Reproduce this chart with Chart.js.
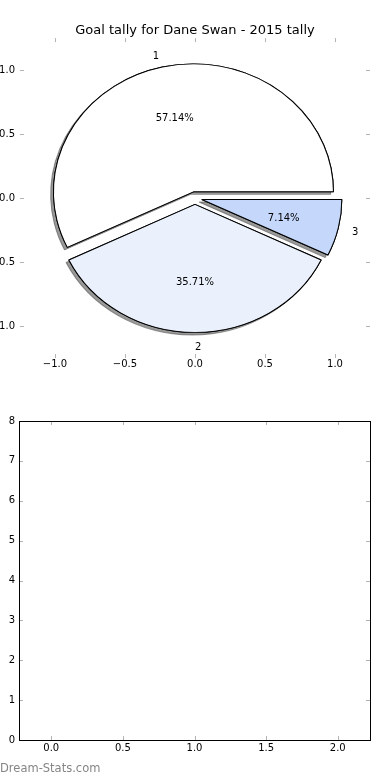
<!DOCTYPE html>
<html><head><meta charset="utf-8">
<script src="https://cdn.jsdelivr.net/npm/chart.js@4/dist/chart.umd.min.js"></script>
<style>
html,body{margin:0;padding:0;background:#fff;overflow:hidden;width:390px;height:780px;}
canvas{position:absolute;background:#fff;}
#pie{left:-30px;top:0;}
#empty{left:-30px;top:395px;}
#wm{position:absolute;left:0;top:761px;font-family:'DejaVu Sans',sans-serif;font-size:11.5px;color:#858585;white-space:nowrap;}
</style></head><body>
<canvas id="pie" width="450" height="390"></canvas>
<canvas id="empty" width="420" height="385"></canvas>
<div id="wm">Dream-Stats.com</div>
<script>
// ---- data ----
const sliceLabels = ['1', '2', '3'];
const goals = [8, 5, 1];
const pieXTicks = [-1, -0.5, 0, 0.5, 1];
const pieYTicks = [-1, -0.5, 0, 0.5, 1];
const lowerXTicks = [0, 0.5, 1, 1.5, 2];
const lowerYTicks = [0, 1, 2, 3, 4, 5, 6, 7, 8];
const titleText = 'Goal tally for Dane Swan - 2015 tally';

// ---- style ----
const sliceColors = ['#ffffff', '#eaf1fd', '#c5d8fb'];
const FONT = "'DejaVu Sans', sans-serif";
const EXPLODE = 0.05, LABEL_R = 1.1, PCT_R = 0.6, SHADOW = 0.02;
const tickFont = {family: FONT, size: 10};
const fmt1 = v => (v < 0 ? '\u2212' : '') + Math.abs(v).toFixed(1);
const fmt0 = v => (v < 0 ? '\u2212' : '') + Math.abs(v).toFixed(0);

const tickMarks = {
  id: 'tickMarks',
  afterDraw(chart, args, opts) {
    const {ctx, chartArea: a} = chart;
    const xs = chart.scales.x, ys = chart.scales.y;
    ctx.save();
    ctx.strokeStyle = opts.color; ctx.lineWidth = 1;
    ctx.beginPath();
    xs.ticks.forEach(t => {
      const p = Math.round(xs.getPixelForValue(t.value)) + 0.5;
      ctx.moveTo(p, a.top); ctx.lineTo(p, a.top + opts.len);
      ctx.moveTo(p, a.bottom); ctx.lineTo(p, a.bottom - opts.len);
    });
    ys.ticks.forEach(t => {
      const p = Math.round(ys.getPixelForValue(t.value)) + 0.5;
      ctx.moveTo(a.left, p); ctx.lineTo(a.left + opts.len, p);
      ctx.moveTo(a.right, p); ctx.lineTo(a.right - opts.len, p);
    });
    ctx.stroke();
    if (opts.frame) {
      ctx.strokeStyle = '#000';
      ctx.strokeRect(Math.round(a.left) + 0.5, Math.round(a.top) + 0.5,
                     Math.round(a.right - a.left), Math.round(a.bottom - a.top));
    }
    ctx.restore();
  }
};

const pieDraw = {
  id: 'pieDraw',
  beforeDatasetDraw(chart, args) {
    const ctx = chart.ctx, xs = chart.scales.x, ys = chart.scales.y, meta = args.meta;
    const R = meta.controller.outerRadius;
    const cx = xs.getPixelForValue(0), cy = ys.getPixelForValue(0);
    const ux = xs.getPixelForValue(1) - cx, uy = cy - ys.getPixelForValue(1);
    const pass = withShadow => {
      ctx.save();
      if (withShadow) {
        ctx.shadowColor = 'rgba(70,70,70,0.55)';
        ctx.shadowOffsetX = -SHADOW * ux;
        ctx.shadowOffsetY = SHADOW * uy;
        ctx.shadowBlur = 0;
      }
      meta.data.forEach(arc => {
        const mid = (arc.startAngle + arc.endAngle) / 2;
        ctx.save();
        ctx.translate(cx, cy);
        ctx.scale(ux / R, -uy / R);
        ctx.translate(-cx, -cy);
        ctx.translate(Math.cos(mid) * EXPLODE * R, Math.sin(mid) * EXPLODE * R);
        arc.draw(ctx);
        ctx.restore();
      });
      ctx.restore();
    };
    pass(true);
    pass(false);
    return false;
  },
  afterDatasetsDraw(chart) {
    const ctx = chart.ctx, xs = chart.scales.x, ys = chart.scales.y;
    const total = goals.reduce((s, v) => s + v, 0);
    let cum = 0;
    ctx.save();
    ctx.font = '10px ' + FONT;
    ctx.fillStyle = '#000';
    ctx.textBaseline = 'middle';
    goals.forEach((g, i) => {
      const a0 = cum / total * 2 * Math.PI; cum += g;
      const a1 = cum / total * 2 * Math.PI;
      const mid = (a0 + a1) / 2, c = Math.cos(mid), s = Math.sin(mid);
      ctx.textAlign = c > -1e-9 ? 'left' : 'right';
      ctx.fillText(sliceLabels[i], xs.getPixelForValue((EXPLODE + LABEL_R) * c),
                   ys.getPixelForValue((EXPLODE + LABEL_R) * s) + 1.8);
      ctx.textAlign = 'center';
      ctx.fillText((g / total * 100).toFixed(2) + '%', xs.getPixelForValue((EXPLODE + PCT_R) * c),
                   ys.getPixelForValue((EXPLODE + PCT_R) * s) + 1.6);
    });
    ctx.restore();
  }
};

new Chart(document.getElementById('pie'), {
  type: 'pie',
  data: {
    labels: sliceLabels,
    datasets: [{data: goals, backgroundColor: sliceColors, borderColor: '#000', borderWidth: 1.15}]
  },
  plugins: [pieDraw, tickMarks],
  options: {
    responsive: false, animation: false, events: [],
    rotation: 90,
    layout: {padding: 0},
    plugins: {
      legend: {display: false}, tooltip: {enabled: false},
      title: {display: true, text: titleText, color: '#000',
              font: {family: FONT, size: 13, weight: 'normal'}, padding: {top: 22.5, bottom: 0}},
      tickMarks: {color: '#b4b4b4', len: 4, frame: false}
    },
    scales: {
      x: {type: 'linear', position: 'bottom', min: -1.25, max: 1.25,
          grid: {display: false, drawTicks: false}, border: {display: false},
          ticks: {font: tickFont, color: '#000', padding: 0, callback: fmt1},
          afterBuildTicks: s => { s.ticks = pieXTicks.map(v => ({value: v})); },
          afterFit: s => { s.height = 32; }},
      y: {type: 'linear', position: 'left', min: -1.25, max: 1.25,
          grid: {display: false, drawTicks: false}, border: {display: false},
          ticks: {font: tickFont, color: '#000', padding: 5, callback: fmt1},
          afterBuildTicks: s => { s.ticks = pieYTicks.map(v => ({value: v})); },
          afterFit: s => { s.width = 50; }},
      y2: {type: 'linear', position: 'right', min: -1.25, max: 1.25,
           grid: {display: false, drawTicks: false}, border: {display: false},
           ticks: {display: false},
           afterFit: s => { s.width = 50; }}
    }
  }
});

new Chart(document.getElementById('empty'), {
  type: 'scatter',
  data: {datasets: []},
  plugins: [tickMarks],
  options: {
    responsive: false, animation: false, events: [],
    layout: {padding: {top: 26, right: 20, left: 0, bottom: 0}},
    plugins: {
      legend: {display: false}, tooltip: {enabled: false},
      tickMarks: {color: '#b4b4b4', len: 4, frame: true}
    },
    scales: {
      x: {type: 'linear', position: 'bottom', min: -0.225, max: 2.225,
          grid: {display: false, drawTicks: false}, border: {display: false},
          ticks: {font: tickFont, color: '#000', padding: 2, callback: fmt1},
          afterBuildTicks: s => { s.ticks = lowerXTicks.map(v => ({value: v})); },
          afterFit: s => { s.height = 40; }},
      y: {type: 'linear', position: 'left', min: 0, max: 8,
          grid: {display: false, drawTicks: false}, border: {display: false},
          ticks: {font: tickFont, color: '#000', padding: 4, callback: fmt0},
          afterBuildTicks: s => { s.ticks = lowerYTicks.map(v => ({value: v})); },
          afterFit: s => { s.width = 49; }}
    }
  }
});
</script>
</body></html>
